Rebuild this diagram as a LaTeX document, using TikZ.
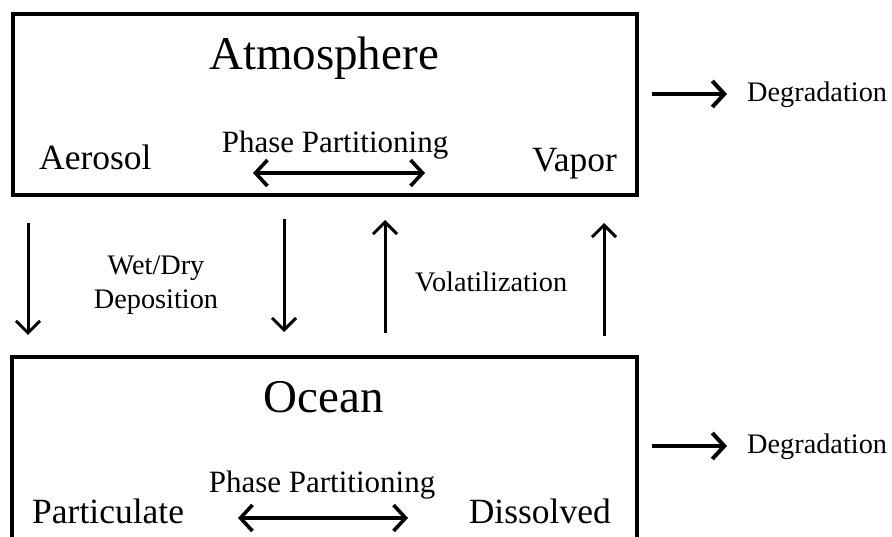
\documentclass[tikz,border=0pt]{standalone}
\usepackage{fontspec}
\setmainfont{Liberation Serif}
\usetikzlibrary{arrows.meta}
\begin{document}
\begin{tikzpicture}[x=1pt,y=-1pt,
  box/.style={draw,line width=4pt,rectangle,inner sep=0pt},
  lbl/.style={inner sep=0pt,anchor=base},
  big/.style={font=\fontsize{47}{50}\selectfont},
  mid/.style={font=\fontsize{35.5}{40}\selectfont},
  pp/.style={font=\fontsize{31}{36}\selectfont},
  sm/.style={font=\fontsize{28.3}{34}\selectfont},
  harr/.style={line width=4pt,-{Straight Barb[length=12pt,width=26pt,line width=4pt]}},
  darr/.style={line width=3.6pt,{Straight Barb[length=12pt,width=26pt,line width=3.6pt]}-{Straight Barb[length=12pt,width=26pt,line width=3.6pt]}},
  varr/.style={line width=3pt,-{Straight Barb[length=12pt,width=24pt,line width=3pt]}}
]
\useasboundingbox (0,0) rectangle (892,537);
% boxes
\node[box,minimum width=624pt,minimum height=181pt] (atm) at (325,104.5) {};
\node[box,minimum width=625pt,minimum height=188pt] (ocean) at (324.5,451) {};
% atmosphere texts
\node[lbl,big] (atmt) at (324,70) {Atmosphere};
\node[lbl,mid,anchor=base west] (aer) at (39,170) {Aerosol};
\node[lbl,pp] (pp1) at (335,153) {Phase Partitioning};
\node[lbl,mid,anchor=base east] (vap) at (617,172) {Vapor};
\coordinate (pa1) at (253,173);
\coordinate (pb1) at (425,173);
\draw[darr] (pa1) -- (pb1);
% ocean texts
\node[lbl,big] (ocet) at (324,413) {Ocean};
\node[lbl,mid,anchor=base west] (par) at (32,523) {Particulate};
\node[lbl,pp] (pp2) at (322,492) {Phase Partitioning};
\node[lbl,mid,anchor=base east] (dis) at (611,523) {Dissolved};
\coordinate (pa2) at (238,518);
\coordinate (pb2) at (408,518);
\draw[darr] (pa2) -- (pb2);
% degradation
\node[lbl,sm,anchor=base west] (deg1) at (747,102) {Degradation};
\node[lbl,sm,anchor=base west] (deg2) at (747,453) {Degradation};
\coordinate (d1) at (652,94);
\coordinate (d2) at (652,446);
\draw[harr,shorten >=20pt] (d1) -- (d1 -| deg1.west);
\draw[harr,shorten >=20pt] (d2) -- (d2 -| deg2.west);
% vertical fluxes
\coordinate (v1a) at (28,223); \coordinate (v1b) at (28,335);
\coordinate (v2a) at (284,219); \coordinate (v2b) at (284,332);
\coordinate (v3a) at (385,333); \coordinate (v3b) at (385,220);
\coordinate (v4a) at (604,336); \coordinate (v4b) at (604,223);
\draw[varr] (v1a) -- (v1b);
\draw[varr] (v2a) -- (v2b);
\draw[varr] (v3a) -- (v3b);
\draw[varr] (v4a) -- (v4b);
\node[lbl,sm] (wet) at (156,275) {Wet/Dry};
\node[lbl,sm] (dep) at (156,309) {Deposition};
\node[lbl,sm,anchor=base west] (vol) at (415,292) {Volatilization};
\end{tikzpicture}
\end{document}
